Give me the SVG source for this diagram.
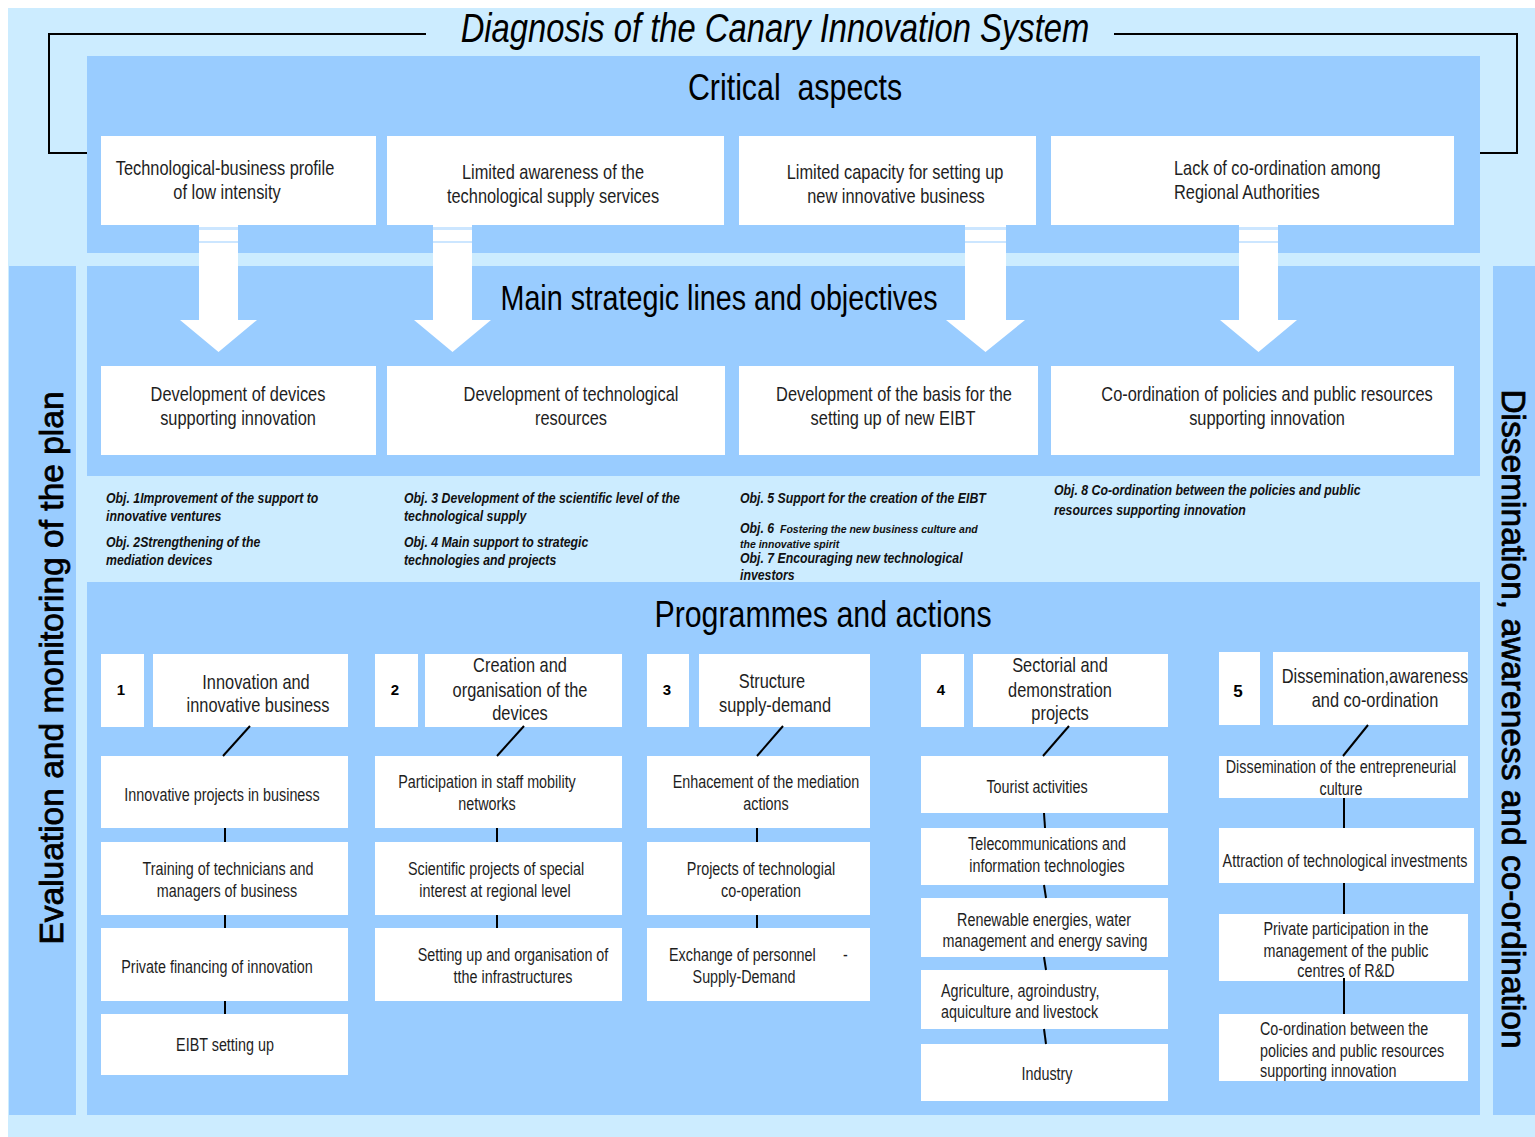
<svg xmlns="http://www.w3.org/2000/svg" width="1535" height="1137" viewBox="0 0 1535 1137">
  <style>
    text { font-family: "Liberation Sans", Arial, sans-serif; fill: #1e1e1e; }
    .bg { fill: #CCECFF; }
    .panel { fill: #99CCFF; }
    .box { fill: #FFFFFF; }
    .band { fill: #CCE6FF; }
    .title { font-size: 40px; font-style: italic; text-anchor: middle; fill: #000; }
    .head { font-size: 36px; text-anchor: middle; fill: #000; }
    .t { font-size: 20px; text-anchor: middle; }
    .ts { font-size: 17.5px; text-anchor: middle; }
    .st { text-anchor: start; }
    .num { font-size: 15px; font-weight: bold; text-anchor: middle; fill: #000; }
    .obj { font-size: 15px; font-style: italic; font-weight: bold; fill: #111; }
    .objs { font-size: 10.5px; font-style: italic; font-weight: bold; fill: #111; }
    .side { font-size: 33.5px; text-anchor: middle; fill: #000; stroke: #000; stroke-width: 0.8px; }
    .ln { stroke: #000; stroke-width: 2; fill: none; }
  </style>

  <!-- background frame and panels -->
  <rect class="bg" x="8" y="8" width="1527" height="1129"/>
  <rect class="panel" x="87" y="56" width="1393" height="197"/>
  <rect class="panel" x="9" y="266" width="67" height="849"/>
  <rect class="panel" x="1493" y="266" width="42" height="849"/>
  <rect class="panel" x="87" y="266" width="1393" height="210"/>
  <rect class="panel" x="87" y="582" width="1393" height="533"/>

  <!-- block arrows from critical aspects to strategic lines -->
  <g id="arrows">
    <polygon class="box" points="199,224 238,224 238,320 257,320 218.5,352 180,320 199,320"/>
    <rect class="band" x="199" y="227" width="39" height="3"/>
    <rect class="band" x="199" y="241" width="39" height="2"/>
    <polygon class="box" points="433,224 472,224 472,320 491,320 452.5,352 414,320 433,320"/>
    <rect class="band" x="433" y="227" width="39" height="3"/>
    <rect class="band" x="433" y="241" width="39" height="2"/>
    <polygon class="box" points="965,224 1006,224 1006,320 1025,320 985.5,352 946,320 965,320"/>
    <rect class="band" x="965" y="227" width="41" height="3"/>
    <rect class="band" x="965" y="241" width="41" height="2"/>
    <polygon class="box" points="1239,224 1278,224 1278,320 1297,320 1258.5,352 1220,320 1239,320"/>
    <rect class="band" x="1239" y="227" width="39" height="3"/>
    <rect class="band" x="1239" y="241" width="39" height="2"/>
  </g>

  <!-- headings (condensed by horizontal scaling) -->
  <text class="title" transform="translate(775 42) scale(.82 1)">Diagnosis of the Canary Innovation System</text>
  <text class="head" transform="translate(795 100) scale(.82 1)" style="font-size:37px;white-space:pre">Critical  aspects</text>
  <text class="head" transform="translate(719 310) scale(.82 1)" style="font-size:35px">Main strategic lines and objectives</text>
  <text class="head" transform="translate(823 627) scale(.82 1)" style="font-size:37px">Programmes and actions</text>
  <text class="side" transform="translate(63,668) rotate(-90)">Evaluation and monitoring of the plan</text>
  <text class="side" transform="translate(1502,719) rotate(90)">Dissemination, awareness and co-ordination</text>

  <!-- critical aspects -->
  <g id="critical-1">
    <rect class="box" x="101" y="136" width="275" height="89"/>
    <text class="t" transform="translate(225 175) scale(.82 1)">Technological-business profile</text>
    <text class="t" transform="translate(227 199) scale(.82 1)">of low intensity</text>
  </g>
  <g id="critical-2">
    <rect class="box" x="387" y="136" width="337" height="89"/>
    <text class="t" transform="translate(553 179) scale(.82 1)">Limited awareness of the</text>
    <text class="t" transform="translate(553 203) scale(.82 1)">technological supply services</text>
  </g>
  <g id="critical-3">
    <rect class="box" x="739" y="136" width="297" height="89"/>
    <text class="t" transform="translate(895 179) scale(.82 1)">Limited capacity for setting up</text>
    <text class="t" transform="translate(896 203) scale(.82 1)">new innovative business</text>
  </g>
  <g id="critical-4">
    <rect class="box" x="1051" y="136" width="403" height="89"/>
    <text class="t st" transform="translate(1174 175) scale(.82 1)">Lack of co-ordination among</text>
    <text class="t st" transform="translate(1174 199) scale(.82 1)">Regional Authorities</text>
  </g>

  <!-- strategic lines -->
  <g id="line-1">
    <rect class="box" x="101" y="366" width="275" height="89"/>
    <text class="t" transform="translate(238 401) scale(.82 1)">Development of devices</text>
    <text class="t" transform="translate(238 425) scale(.82 1)">supporting innovation</text>
  </g>
  <g id="line-2">
    <rect class="box" x="387" y="366" width="338" height="89"/>
    <text class="t" transform="translate(571 401) scale(.82 1)">Development of technological</text>
    <text class="t" transform="translate(571 425) scale(.82 1)">resources</text>
  </g>
  <g id="line-3">
    <rect class="box" x="739" y="366" width="299" height="89"/>
    <text class="t" transform="translate(894 401) scale(.82 1)">Development of the basis for the</text>
    <text class="t" transform="translate(893 425) scale(.82 1)">setting up of new EIBT</text>
  </g>
  <g id="line-4">
    <rect class="box" x="1051" y="366" width="403" height="89"/>
    <text class="t" transform="translate(1267 401) scale(.82 1)">Co-ordination of policies and public resources</text>
    <text class="t" transform="translate(1267 425) scale(.82 1)">supporting innovation</text>
  </g>

  <!-- objectives -->
  <g id="objectives">
    <text class="obj" transform="translate(106 503) scale(.82 1)">Obj. 1Improvement of the support to</text>
    <text class="obj" transform="translate(106 521) scale(.82 1)">innovative ventures</text>
    <text class="obj" transform="translate(106 547) scale(.82 1)">Obj. 2Strengthening of the</text>
    <text class="obj" transform="translate(106 565) scale(.82 1)">mediation devices</text>
    <text class="obj" transform="translate(404 503) scale(.82 1)">Obj. 3 Development of the scientific level of the</text>
    <text class="obj" transform="translate(404 521) scale(.82 1)">technological supply</text>
    <text class="obj" transform="translate(404 547) scale(.82 1)">Obj. 4 Main support to strategic</text>
    <text class="obj" transform="translate(404 565) scale(.82 1)">technologies and projects</text>
    <text class="obj" transform="translate(740 503) scale(.82 1)">Obj. 5 Support for the creation of the EIBT</text>
    <text class="obj" transform="translate(740 533) scale(.82 1)">Obj. 6</text>
    <text class="objs" x="780" y="533">Fostering the new business culture and</text>
    <text class="objs" x="740" y="548">the innovative spirit</text>
    <text class="obj" transform="translate(740 563) scale(.82 1)">Obj. 7 Encouraging new technological</text>
    <text class="obj" transform="translate(740 580) scale(.82 1)">investors</text>
    <text class="obj" transform="translate(1054 495) scale(.82 1)">Obj. 8 Co-ordination between the policies and public</text>
    <text class="obj" transform="translate(1054 515) scale(.82 1)">resources supporting innovation</text>
  </g>

  <!-- programme 1 -->
  <g id="prog-1">
    <rect class="box" x="101" y="654" width="43" height="73"/>
    <text class="num" x="121" y="695">1</text>
    <rect class="box" x="153" y="654" width="195" height="73"/>
    <text class="t" transform="translate(256 689) scale(.82 1)">Innovation and</text>
    <text class="t" transform="translate(258 712) scale(.82 1)">innovative business</text>
  </g>
  <g id="prog-1-a">
    <rect class="box" x="101" y="756" width="247" height="72"/>
    <text class="ts" transform="translate(222 801) scale(.82 1)">Innovative projects in business</text>
  </g>
  <g id="prog-1-b">
    <rect class="box" x="101" y="842" width="247" height="73"/>
    <text class="ts" transform="translate(228 875) scale(.82 1)">Training of technicians and</text>
    <text class="ts" transform="translate(227 897) scale(.82 1)">managers of business</text>
  </g>
  <g id="prog-1-c">
    <rect class="box" x="101" y="928" width="247" height="73"/>
    <text class="ts" transform="translate(217 973) scale(.82 1)">Private financing of innovation</text>
  </g>
  <g id="prog-1-d">
    <rect class="box" x="101" y="1014" width="247" height="61"/>
    <text class="ts" transform="translate(225 1051) scale(.82 1)">EIBT setting up</text>
  </g>

  <!-- programme 2 -->
  <g id="prog-2">
    <rect class="box" x="375" y="654" width="43" height="73"/>
    <text class="num" x="395" y="695">2</text>
    <rect class="box" x="425" y="654" width="197" height="73"/>
    <text class="t" transform="translate(520 672) scale(.82 1)">Creation and</text>
    <text class="t" transform="translate(520 697) scale(.82 1)">organisation of the</text>
    <text class="t" transform="translate(520 720) scale(.82 1)">devices</text>
  </g>
  <g id="prog-2-a">
    <rect class="box" x="375" y="756" width="247" height="72"/>
    <text class="ts" transform="translate(487 788) scale(.82 1)">Participation in staff mobility</text>
    <text class="ts" transform="translate(487 810) scale(.82 1)">networks</text>
  </g>
  <g id="prog-2-b">
    <rect class="box" x="375" y="842" width="247" height="73"/>
    <text class="ts" transform="translate(496 875) scale(.82 1)">Scientific projects of special</text>
    <text class="ts" transform="translate(495 897) scale(.82 1)">interest at regional level</text>
  </g>
  <g id="prog-2-c">
    <rect class="box" x="375" y="928" width="247" height="73"/>
    <text class="ts" transform="translate(513 961) scale(.82 1)">Setting up and organisation of</text>
    <text class="ts" transform="translate(513 983) scale(.82 1)">tthe infrastructures</text>
  </g>

  <!-- programme 3 -->
  <g id="prog-3">
    <rect class="box" x="647" y="654" width="42" height="73"/>
    <text class="num" x="667" y="695">3</text>
    <rect class="box" x="699" y="654" width="171" height="73"/>
    <text class="t" transform="translate(772 688) scale(.82 1)">Structure</text>
    <text class="t" transform="translate(775 712) scale(.82 1)">supply-demand</text>
  </g>
  <g id="prog-3-a">
    <rect class="box" x="647" y="756" width="223" height="72"/>
    <text class="ts" transform="translate(766 788) scale(.82 1)">Enhacement of the mediation</text>
    <text class="ts" transform="translate(766 810) scale(.82 1)">actions</text>
  </g>
  <g id="prog-3-b">
    <rect class="box" x="647" y="842" width="223" height="73"/>
    <text class="ts" transform="translate(761 875) scale(.82 1)">Projects of technologial</text>
    <text class="ts" transform="translate(761 897) scale(.82 1)">co-operation</text>
  </g>
  <g id="prog-3-c">
    <rect class="box" x="647" y="928" width="223" height="73"/>
    <text class="ts st" transform="translate(669 961) scale(.82 1)">Exchange of personnel</text>
    <text class="ts st" transform="translate(843 961) scale(.82 1)">-</text>
    <text class="ts" transform="translate(744 983) scale(.82 1)">Supply-Demand</text>
  </g>

  <!-- programme 4 -->
  <g id="prog-4">
    <rect class="box" x="921" y="654" width="43" height="73"/>
    <text class="num" x="941" y="695">4</text>
    <rect class="box" x="973" y="654" width="195" height="73"/>
    <text class="t" transform="translate(1060 672) scale(.82 1)">Sectorial and</text>
    <text class="t" transform="translate(1060 697) scale(.82 1)">demonstration</text>
    <text class="t" transform="translate(1060 720) scale(.82 1)">projects</text>
  </g>
  <g id="prog-4-a">
    <rect class="box" x="921" y="756" width="247" height="57"/>
    <text class="ts" transform="translate(1037 793) scale(.82 1)">Tourist activities</text>
  </g>
  <g id="prog-4-b">
    <rect class="box" x="921" y="828" width="247" height="57"/>
    <text class="ts" transform="translate(1047 850) scale(.82 1)">Telecommunications and</text>
    <text class="ts" transform="translate(1047 872) scale(.82 1)">information technologies</text>
  </g>
  <g id="prog-4-c">
    <rect class="box" x="921" y="898" width="247" height="59"/>
    <text class="ts" transform="translate(1044 926) scale(.82 1)">Renewable energies, water</text>
    <text class="ts" transform="translate(1045 947) scale(.82 1)">management and energy saving</text>
  </g>
  <g id="prog-4-d">
    <rect class="box" x="921" y="970" width="247" height="59"/>
    <text class="ts st" transform="translate(941 997) scale(.82 1)">Agriculture, agroindustry,</text>
    <text class="ts st" transform="translate(941 1018) scale(.82 1)">aquiculture and livestock</text>
  </g>
  <g id="prog-4-e">
    <rect class="box" x="921" y="1044" width="247" height="57"/>
    <text class="ts" transform="translate(1047 1080) scale(.82 1)">Industry</text>
  </g>

  <!-- programme 5 -->
  <g id="prog-5">
    <rect class="box" x="1219" y="652" width="41" height="73"/>
    <text class="num" x="1238" y="697" style="font-size:17px">5</text>
    <rect class="box" x="1273" y="652" width="195" height="73"/>
    <text class="t" transform="translate(1375 683) scale(.82 1)">Dissemination,awareness</text>
    <text class="t" transform="translate(1375 707) scale(.82 1)">and co-ordination</text>
  </g>
  <g id="prog-5-a">
    <rect class="box" x="1219" y="756" width="249" height="42"/>
    <text class="ts" transform="translate(1341 773) scale(.82 1)">Dissemination of the entrepreneurial</text>
    <text class="ts" transform="translate(1341 795) scale(.82 1)">culture</text>
  </g>
  <g id="prog-5-b">
    <rect class="box" x="1219" y="828" width="255" height="55"/>
    <text class="ts" transform="translate(1345 867) scale(.82 1)">Attraction of technological investments</text>
  </g>
  <g id="prog-5-c">
    <rect class="box" x="1219" y="914" width="249" height="67"/>
    <text class="ts" transform="translate(1346 935) scale(.82 1)">Private participation in the</text>
    <text class="ts" transform="translate(1346 957) scale(.82 1)">management of the public</text>
    <text class="ts" transform="translate(1346 977) scale(.82 1)">centres of R&amp;D</text>
  </g>
  <g id="prog-5-d">
    <rect class="box" x="1219" y="1014" width="249" height="67"/>
    <text class="ts st" transform="translate(1260 1035) scale(.82 1)">Co-ordination between the</text>
    <text class="ts st" transform="translate(1260 1057) scale(.82 1)">policies and public resources</text>
    <text class="ts st" transform="translate(1260 1077) scale(.82 1)">supporting innovation</text>
  </g>

  <!-- connectors -->
  <g id="connectors">
    <polyline class="ln" points="426,34 49,34 49,153 87,153"/>
    <polyline class="ln" points="1114,34 1517,34 1517,153 1480,153"/>
    <line class="ln" x1="250" y1="726" x2="223" y2="756"/>
    <line class="ln" x1="524" y1="726" x2="497" y2="756"/>
    <line class="ln" x1="783" y1="726" x2="757" y2="756"/>
    <line class="ln" x1="1069" y1="726" x2="1043" y2="756"/>
    <line class="ln" x1="1368" y1="725" x2="1343" y2="756"/>
    <line class="ln" x1="225" y1="828" x2="225" y2="842"/>
    <line class="ln" x1="225" y1="915" x2="225" y2="928"/>
    <line class="ln" x1="225" y1="1001" x2="225" y2="1014"/>
    <line class="ln" x1="497" y1="828" x2="497" y2="842"/>
    <line class="ln" x1="497" y1="915" x2="497" y2="928"/>
    <line class="ln" x1="757" y1="828" x2="757" y2="842"/>
    <line class="ln" x1="757" y1="915" x2="757" y2="928"/>
    <line class="ln" x1="1044" y1="813" x2="1045" y2="828"/>
    <line class="ln" x1="1044" y1="885" x2="1046" y2="898"/>
    <line class="ln" x1="1044" y1="957" x2="1046" y2="970"/>
    <line class="ln" x1="1044" y1="1029" x2="1046" y2="1044"/>
    <line class="ln" x1="1344" y1="798" x2="1344" y2="828"/>
    <line class="ln" x1="1344" y1="883" x2="1344" y2="914"/>
    <line class="ln" x1="1344" y1="978" x2="1344" y2="1014"/>
  </g>
</svg>
